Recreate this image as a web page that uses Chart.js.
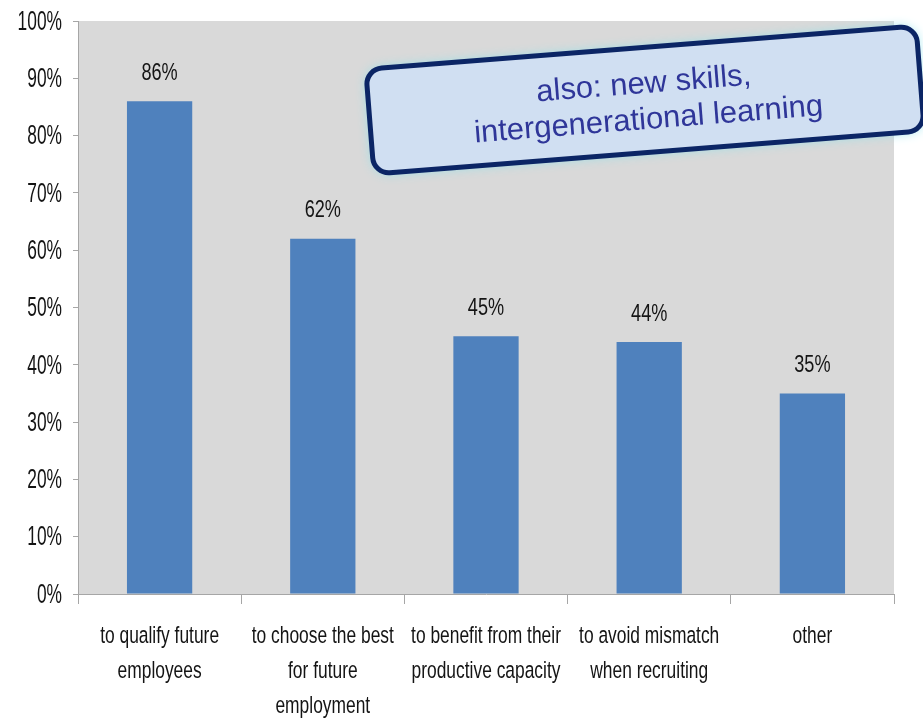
<!DOCTYPE html>
<html>
<head>
<meta charset="utf-8">
<script src="https://cdn.jsdelivr.net/npm/chart.js@4.4.1/dist/chart.umd.min.js"></script>
<style>
  html, body { margin: 0; padding: 0; background: #ffffff; }
  #wrap { width: 923px; height: 724px; }
</style>
</head>
<body>
<div id="wrap"><canvas id="c" width="923" height="724"></canvas></div>
<script>
// Reasons for offering placements (share of companies, %)
const categories = [
  ['to qualify future', 'employees'],
  ['to choose the best', 'for future', 'employment'],
  ['to benefit from their', 'productive capacity'],
  ['to avoid mismatch', 'when recruiting'],
  ['other']
];
const shares = [86, 62, 45, 44, 35];
const yTicks = [0, 10, 20, 30, 40, 50, 60, 70, 80, 90, 100];
const noteLines = ['also: new skills,', 'intergenerational learning'];

const SANS = "'Liberation Sans', Arial, sans-serif";
const AXIS_GREY = '#a6a6a6';
const TEXT = '#141414';

// draw text squeezed horizontally (tall, narrow face) around its anchor point
function narrowText(ctx, str, x, y, align, squeeze) {
  ctx.save();
  ctx.translate(x, y);
  ctx.scale(squeeze, 1);
  ctx.textAlign = align;
  ctx.fillText(str, 0, 0);
  ctx.restore();
}

// grey plot background
const plotBackground = {
  id: 'plotBackground',
  beforeDraw(chart) {
    const { ctx, chartArea: a } = chart;
    ctx.save();
    ctx.fillStyle = '#d9d9d9';
    ctx.fillRect(a.left, a.top, a.right - a.left, a.bottom - a.top);
    ctx.restore();
  }
};

// axis tick labels placed from the scales' own tick positions
const axisLabels = {
  id: 'axisLabels',
  afterDraw(chart) {
    const { ctx } = chart;
    const xs = chart.scales.x, ys = chart.scales.y;
    ctx.save();
    ctx.fillStyle = TEXT;
    ctx.textBaseline = 'middle';
    ctx.font = '28px ' + SANS;
    ys.ticks.forEach(t => {
      narrowText(ctx, t.value + '%', ys.right - 16, ys.getPixelForValue(t.value) + 1, 'right', 0.62);
    });
    ctx.font = '24.5px ' + SANS;
    categories.forEach((lines, i) => {
      const x = xs.getPixelForTick(i);
      lines.forEach((line, k) => {
        narrowText(ctx, line, x, xs.top + 42 + k * 35, 'center', 0.71);
      });
    });
    ctx.restore();
  }
};

// percentage written above each bar
const valueLabels = {
  id: 'valueLabels',
  afterDatasetsDraw(chart) {
    const { ctx } = chart;
    const meta = chart.getDatasetMeta(0);
    ctx.save();
    ctx.font = '24.5px ' + SANS;
    ctx.fillStyle = TEXT;
    ctx.textBaseline = 'middle';
    meta.data.forEach((bar, i) => {
      narrowText(ctx, shares[i] + '%', bar.x, bar.y - 28, 'center', 0.74);
    });
    ctx.restore();
  }
};

// tilted call-out box in the upper right
const noteBox = {
  id: 'noteBox',
  afterDraw(chart) {
    const { ctx } = chart;
    const w = 552, h = 105, r = 16;
    ctx.save();
    ctx.translate(645, 100);
    ctx.rotate(-4.5 * Math.PI / 180);
    ctx.beginPath();
    ctx.roundRect(-w / 2, -h / 2, w, h, r);
    ctx.shadowColor = 'rgba(140, 225, 235, 1)';
    ctx.shadowBlur = 12;
    ctx.fillStyle = '#d0dff2';
    ctx.fill();
    ctx.shadowColor = 'transparent';
    ctx.shadowBlur = 0;
    ctx.lineWidth = 5;
    ctx.strokeStyle = '#0b2565';
    ctx.stroke();
    ctx.fillStyle = '#2f3699';
    ctx.font = '31px ' + SANS;
    ctx.textAlign = 'center';
    ctx.textBaseline = 'alphabetic';
    ctx.fillText(noteLines[0], 0, -7);
    ctx.fillText(noteLines[1], 2, 29);
    ctx.restore();
  }
};

new Chart(document.getElementById('c'), {
  type: 'bar',
  data: {
    labels: categories,
    datasets: [{
      data: shares,
      backgroundColor: '#4f81bd',
      borderWidth: 0,
      categoryPercentage: 1.0,
      barPercentage: 0.4
    }]
  },
  options: {
    responsive: false,
    animation: false,
    events: [],
    layout: { padding: { top: 21, right: 29, bottom: 0, left: 0 } },
    plugins: {
      legend: { display: false },
      tooltip: { enabled: false }
    },
    scales: {
      x: {
        offset: true,
        grid: {
          offset: true,
          drawOnChartArea: false,
          drawTicks: true,
          tickLength: 10,
          tickColor: AXIS_GREY
        },
        border: { color: AXIS_GREY, width: 1 },
        ticks: { display: false },
        afterFit(scale) { scale.height = 130; }
      },
      y: {
        min: 0,
        max: 100,
        afterBuildTicks(scale) { scale.ticks = yTicks.map(v => ({ value: v })); },
        grid: {
          drawOnChartArea: false,
          drawTicks: true,
          tickLength: 5,
          tickColor: AXIS_GREY
        },
        border: { color: AXIS_GREY, width: 1 },
        ticks: { display: false },
        afterFit(scale) { scale.width = 78; }
      }
    }
  },
  plugins: [plotBackground, valueLabels, axisLabels, noteBox]
});
</script>
</body>
</html>
